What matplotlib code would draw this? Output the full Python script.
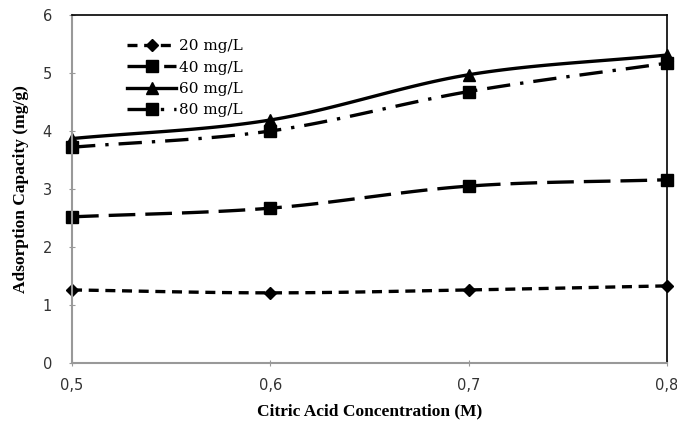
import matplotlib
matplotlib.use("Agg")
import matplotlib.pyplot as plt
import numpy as np

# data
conc = [0.5, 0.6, 0.7, 0.8]
labels = ["20 mg/L", "40 mg/L", "60 mg/L", "80 mg/L"]
cap_20 = [1.26, 1.21, 1.26, 1.33]
cap_40 = [2.52, 2.67, 3.05, 3.16]
cap_60 = [3.87, 4.19, 4.97, 5.31]
cap_80 = [3.72, 4.00, 4.68, 5.17]
xtick_labels = ["0,5", "0,6", "0,7", "0,8"]


def smooth(x, y, n=30):
    # catmull-rom curve through the points, like excel "smoothed line"
    x = np.asarray(x, float)
    y = np.asarray(y, float)
    px = np.concatenate([[2 * x[0] - x[1]], x, [2 * x[-1] - x[-2]]])
    py = np.concatenate([[2 * y[0] - y[1]], y, [2 * y[-1] - y[-2]]])
    xs, ys = [], []
    t = np.linspace(0, 1, n)
    for i in range(1, len(px) - 2):
        for p, out in ((px, xs), (py, ys)):
            p0, p1, p2, p3 = p[i - 1], p[i], p[i + 1], p[i + 2]
            out.extend(0.5 * (2 * p1 + (-p0 + p2) * t
                              + (2 * p0 - 5 * p1 + 4 * p2 - p3) * t ** 2
                              + (-p0 + 3 * p1 - 3 * p2 + p3) * t ** 3))
    return xs, ys


fig = plt.figure(figsize=(6.77, 4.29), dpi=100)
ax = fig.add_axes([0.1064, 0.1538, 0.8786, 0.8112])

styles = [
    (cap_20, (0, (3, 2)), "D", 6),
    (cap_40, (0, (8, 3)), "s", 9),
    (cap_60, "-", "^", 8),
    (cap_80, (0, (7, 3, 1, 3)), "s", 9),
]
for (vals, ls, mk, ms), lab in zip(styles, labels):
    sx, sy = smooth(conc, vals)
    ax.plot(sx, sy, color="black", lw=2.4, ls=ls)
    ax.plot(conc, vals, ls="none", marker=mk, ms=ms, color="black", clip_on=False)
    ax.plot([], [], color="black", lw=2.4, ls=ls, marker=mk, ms=ms, label=lab)

ax.set_xlim(0.5, 0.8)
ax.set_ylim(0, 6)
ax.set_xticks(conc)
ax.set_xticklabels(xtick_labels)
ax.set_yticks(range(7))
ax.tick_params(direction="inout", length=5, color="#999999",
               labelsize=10.5, labelcolor="#333333")
ax.tick_params(axis="x", pad=8)
ax.tick_params(axis="y", pad=12)
for s in ("left", "bottom"):
    ax.spines[s].set_color("#999999")
    ax.spines[s].set_linewidth(1.5)
for s in ("top", "right"):
    ax.spines[s].set_color("black")
    ax.spines[s].set_linewidth(1.2)

ax.set_xlabel("Citric Acid Concentration (M)", fontsize=12.5, fontweight="bold",
              family="Liberation Serif", labelpad=8)
ax.set_ylabel("Adsorption Capacity (mg/g)", fontsize=12.5, fontweight="bold",
              family="Liberation Serif", labelpad=10)

leg = ax.legend(loc="upper left", bbox_to_anchor=(0.07, 0.97), frameon=False,
                prop={"family": "DejaVu Serif", "size": 11},
                handlelength=3.2, handletextpad=0.2, labelspacing=0.48)

fig.savefig("out.png", dpi=100)
